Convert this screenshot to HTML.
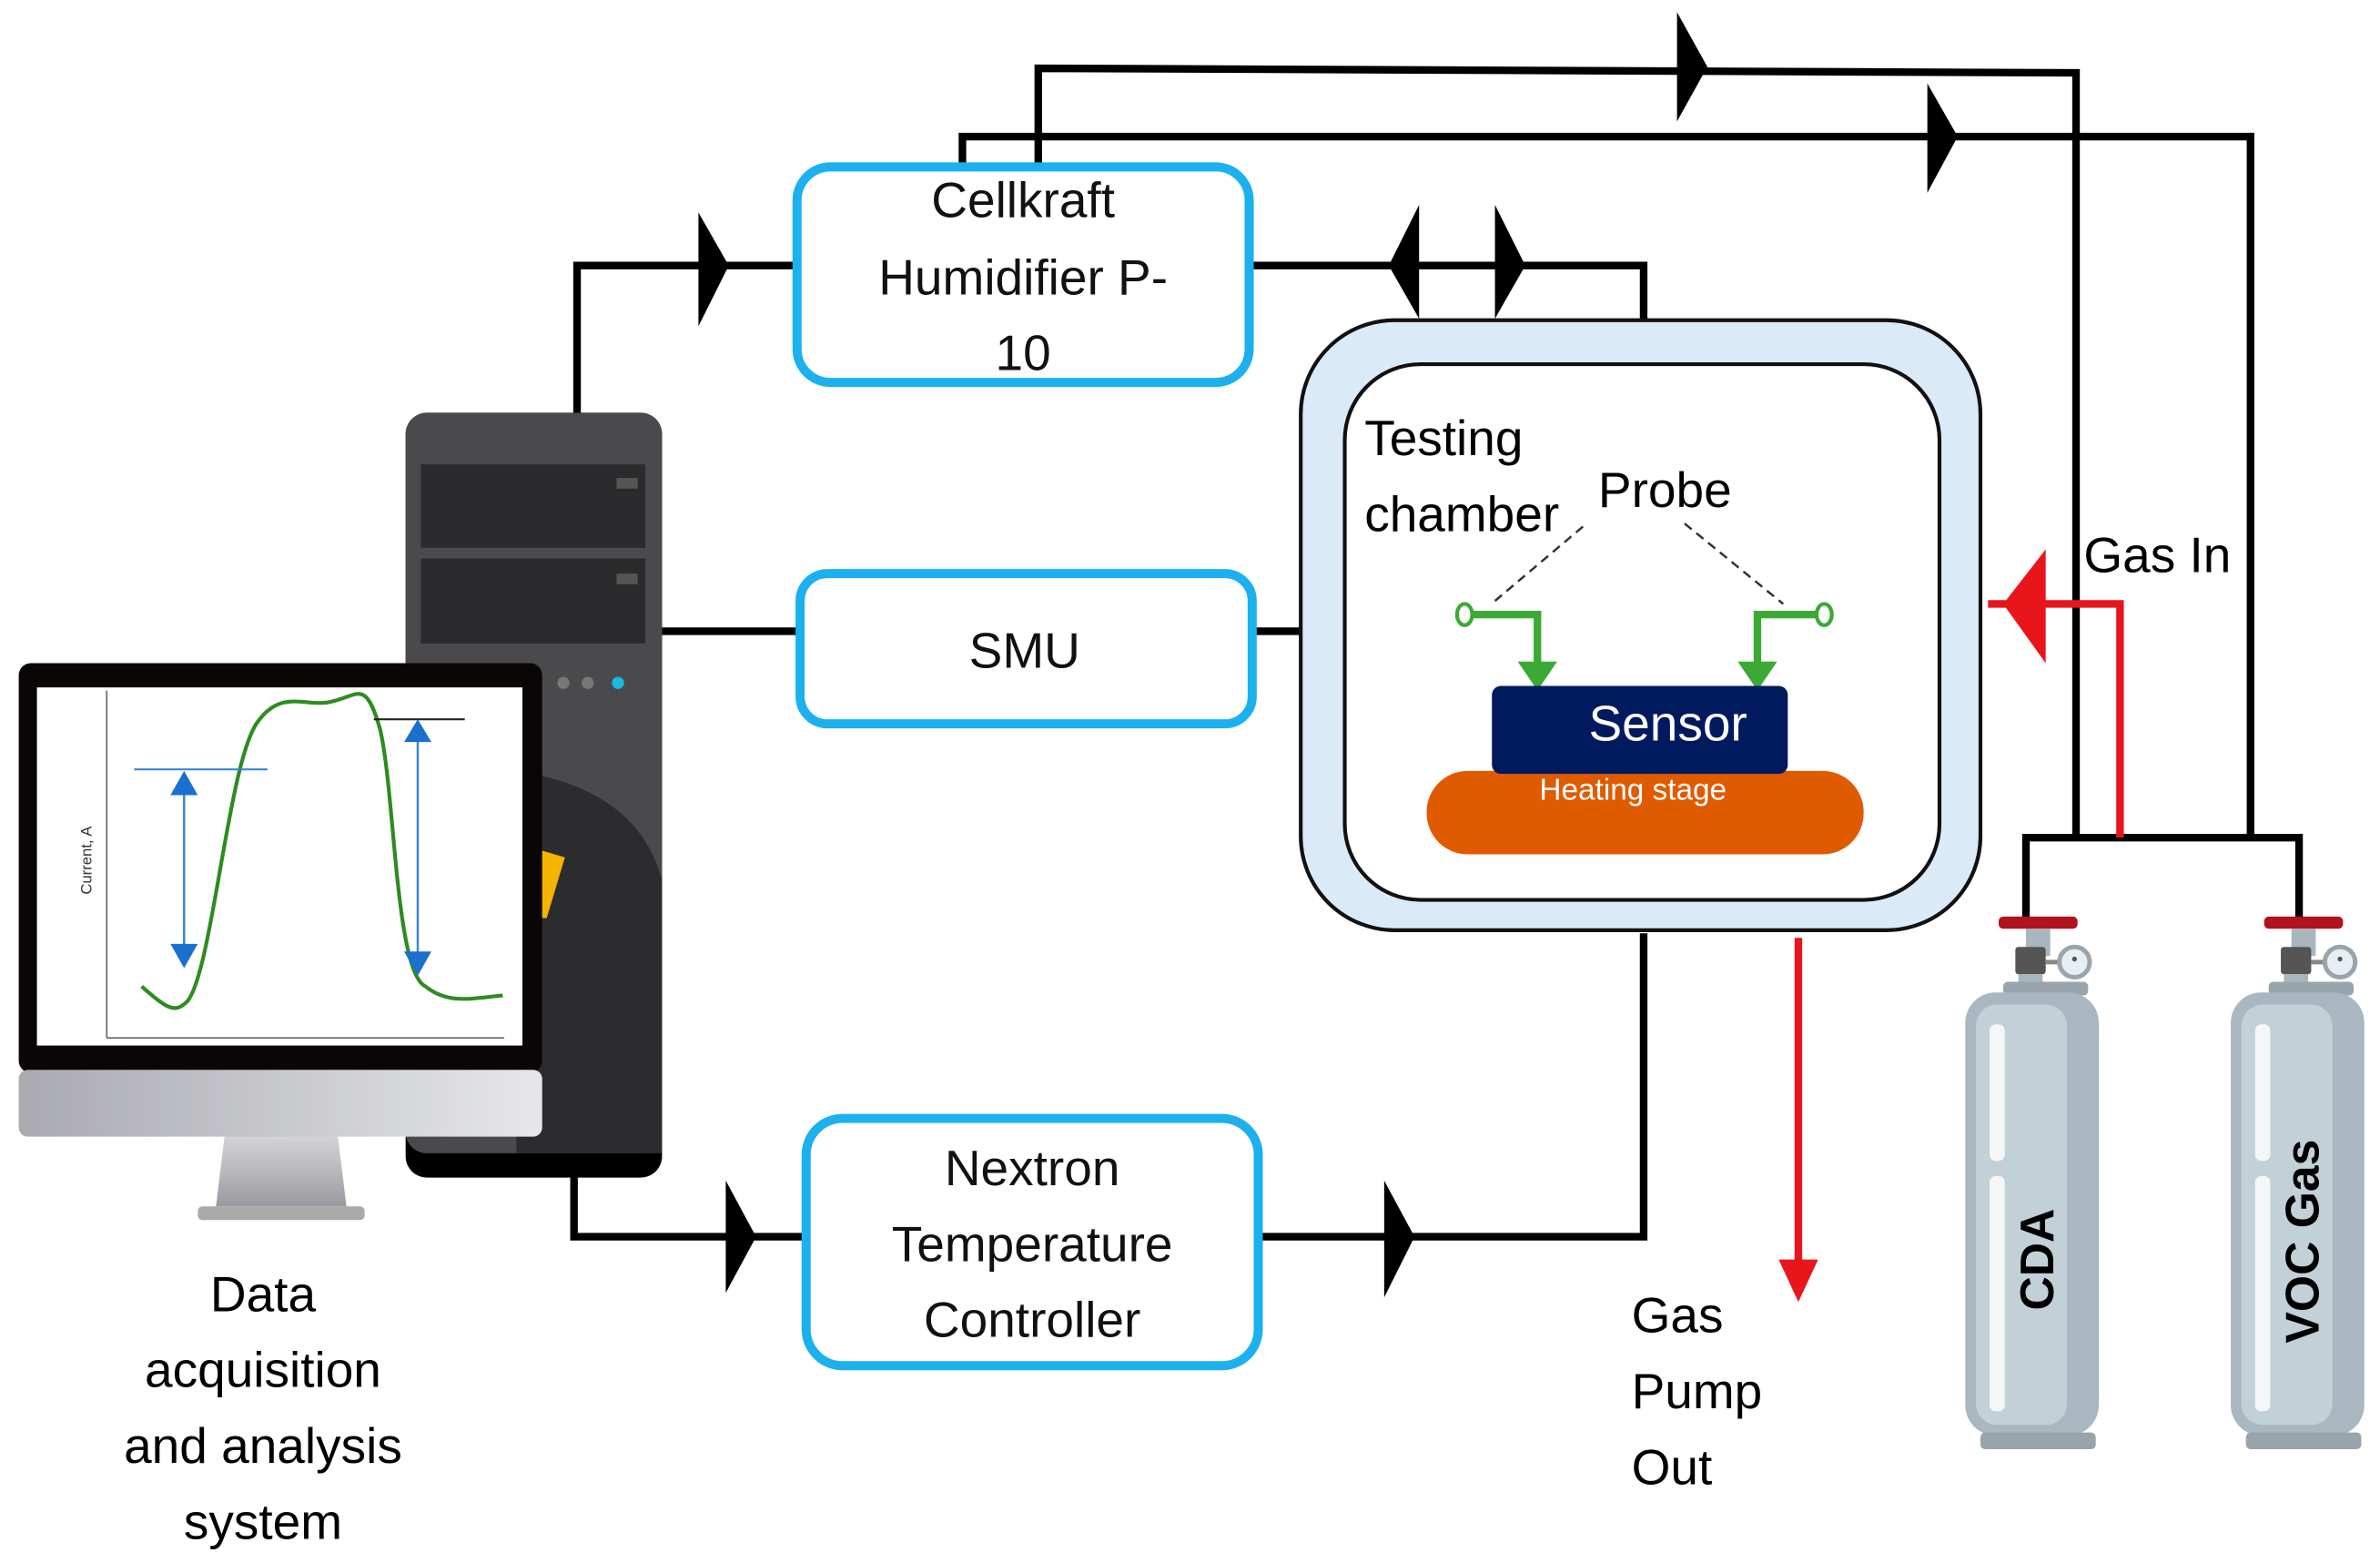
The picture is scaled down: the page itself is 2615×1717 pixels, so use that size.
<!DOCTYPE html>
<html><head><meta charset="utf-8"><style>
html,body{margin:0;padding:0;background:#fff;}
svg{display:block;}
text{font-family:"Liberation Sans","DejaVu Sans",sans-serif;}
</style></head><body>
<svg width="2615" height="1717" viewBox="0 0 1568 1030" xmlns="http://www.w3.org/2000/svg">
<defs>
<linearGradient id="bez" x1="0" x2="1"><stop offset="0" stop-color="#a9aab0"/><stop offset="1" stop-color="#e6e7ea"/></linearGradient>
<linearGradient id="stand" x1="0" x2="0" y1="0" y2="1"><stop offset="0" stop-color="#d8d8dc"/><stop offset="1" stop-color="#9a9aa0"/></linearGradient>
<g id="cyl">
<rect x="-8" y="-6" width="52" height="8" rx="3" fill="#b0131d"/>
<rect x="10" y="2" width="16" height="18" fill="#a8b6bf"/>
<rect x="3" y="14" width="20" height="18" rx="2" fill="#555"/>
<line x1="23" y1="24" x2="33" y2="24" stroke="#888" stroke-width="3"/>
<circle cx="42" cy="24" r="10" fill="#e8eef1" stroke="#98a5ad" stroke-width="3"/>
<circle cx="42" cy="22" r="1.6" fill="#555"/>
<rect x="5" y="32" width="16" height="6" fill="#a8b6bf"/>
<rect x="-5" y="37" width="56" height="9" rx="3" fill="#98a5ad"/>
<rect x="-30" y="44" width="88" height="292" rx="20" fill="#a9b7c0"/>
<rect x="-23" y="52" width="60" height="277" rx="14" fill="#c2d0d8"/>
<rect x="-14" y="65" width="10" height="90" rx="4" fill="#f4f6f7"/>
<rect x="-14" y="165" width="10" height="155" rx="4" fill="#f4f6f7"/>
<rect x="-20" y="334" width="76" height="11" rx="3" fill="#98a5ad"/>
</g>
</defs>

<g fill="none" stroke="#000" stroke-width="5">
<polyline points="684,108 684,45 1368,48 1368,552"/>
<polyline points="634,108 634,90 1483,90 1483,552"/>
<polyline points="1335,605 1335,552 1515,552 1515,605"/>
<polyline points="380,275 380,175 525,175"/>
<polyline points="823,175 1083,175 1083,212"/>
<line x1="436" y1="416" x2="527" y2="416"/>
<line x1="825" y1="416" x2="858" y2="416"/>
<polyline points="378,772 378,815 531,815"/>
<polyline points="829,815 1083,815 1083,615"/>
</g>
<g fill="#000">
<polygon points="1105,8 1125,44 1105,80"/>
<polygon points="1270,55 1290,90 1270,127"/>
<polygon points="460,140 480,175 460,215"/>
<polygon points="935,135 915,175 935,210"/>
<polygon points="985,135 1005,175 985,210"/>
<polygon points="478,778 498,815 478,852"/>
<polygon points="912,778 932,815 912,855"/>
</g>
<g stroke="#e8161b" stroke-width="5" fill="none">
<polyline points="1397,552 1397,398 1310,398"/>
<line x1="1185" y1="618" x2="1185" y2="835"/>
</g>
<polygon points="1348,362 1320,398 1348,437" fill="#e8161b"/>
<polygon points="1172,830 1198,830 1185,858" fill="#e8161b"/>

<g fill="#fff" stroke="#1cb0ee" stroke-width="6">
<rect x="525" y="110" width="298" height="142" rx="22"/>
<rect x="527" y="378" width="298" height="99" rx="18"/>
<rect x="531" y="737" width="298" height="163" rx="24"/>
</g>
<g font-size="33" fill="#111" text-anchor="middle">
<text x="674" y="143">Cellkraft</text>
<text x="674" y="194">Humidifier P-</text>
<text x="674" y="244">10</text>
<text x="675" y="440">SMU</text>
<text x="680" y="781">Nextron</text>
<text x="680" y="831">Temperature</text>
<text x="680" y="881">Controller</text>
</g>

<rect x="857" y="211" width="448" height="402" rx="62" fill="#dbeaf7" stroke="#111" stroke-width="2.5"/>
<rect x="886" y="240" width="392" height="353" rx="50" fill="#fff" stroke="#111" stroke-width="2.5"/>
<g font-size="33" fill="#000">
<text x="899" y="300">Testing</text>
<text x="899" y="350">chamber</text>
<text x="1053" y="334">Probe</text>
<text x="1373" y="377">Gas In</text>
<text x="1075" y="878">Gas</text>
<text x="1075" y="928">Pump</text>
<text x="1075" y="978">Out</text>
</g>
<g stroke="#333" stroke-width="1.5" stroke-dasharray="6,4" fill="none">
<line x1="1043" y1="347" x2="985" y2="396"/>
<line x1="1110" y1="345" x2="1175" y2="398"/>
</g>
<g stroke="#3aaa35" stroke-width="5" fill="none">
<polyline points="970,405 1013,405 1013,440"/>
<polyline points="1197,405 1158,405 1158,440"/>
</g>
<g fill="#fff" stroke="#3aaa35" stroke-width="2.5">
<ellipse cx="965" cy="405" rx="5" ry="7"/>
<ellipse cx="1202" cy="405" rx="5" ry="7"/>
</g>
<polygon points="1000,436 1026,436 1013,455" fill="#3aaa35"/>
<polygon points="1145,436 1171,436 1158,455" fill="#3aaa35"/>
<rect x="940" y="508" width="288" height="55" rx="27" fill="#e05a00"/>
<rect x="983" y="452" width="195" height="58" rx="6" fill="#011a5e"/>
<text x="1099" y="488" font-size="33" fill="#fff" text-anchor="middle">Sensor</text>
<text x="1076" y="527" font-size="20" fill="#fff" text-anchor="middle">Heating stage</text>

<use href="#cyl" x="1325" y="610"/>
<use href="#cyl" x="1500" y="610"/>
<text transform="translate(1353,830) rotate(-90)" font-size="31" font-weight="bold" fill="#000" text-anchor="middle">CDA</text>
<text transform="translate(1528,818) rotate(-90)" font-size="31" font-weight="bold" fill="#000" text-anchor="middle">VOC Gas</text>

<rect x="267" y="272" width="169" height="504" rx="14" fill="#000"/>
<rect x="267" y="272" width="169" height="488" rx="14" fill="#4a4a4d"/>
<rect x="277" y="306" width="148" height="55" fill="#2b2b2d"/>
<rect x="277" y="368" width="148" height="56" fill="#2b2b2d"/>
<rect x="406" y="315" width="14" height="7" fill="#555"/>
<rect x="406" y="378" width="14" height="7" fill="#555"/>
<circle cx="371" cy="450" r="4" fill="#777"/>
<circle cx="387" cy="450" r="4" fill="#777"/>
<circle cx="407" cy="450" r="4" fill="#19b9e0"/>
<path d="M340,508 Q420,520 436,580 L436,760 L340,760 Z" fill="#2c2c2e"/>
<path d="M355,560 L372,565 L360,605 L355,605 Z" fill="#f5b400"/>
<polygon points="148,746 222,746 228,795 142,795" fill="url(#stand)"/>
<rect x="130" y="795" width="110" height="9" rx="3" fill="#aaa"/>
<rect x="12" y="437" width="345" height="270" rx="8" fill="#0a0605"/>
<rect x="12" y="705" width="345" height="44" rx="6" fill="url(#bez)"/>
<rect x="24" y="453" width="320" height="236" fill="#fff"/>
<line x1="70" y1="455" x2="70" y2="684" stroke="#666" stroke-width="1"/>
<line x1="70" y1="684" x2="332" y2="684" stroke="#666" stroke-width="1"/>
<text transform="translate(60,567) rotate(-90)" font-size="10" fill="#333" text-anchor="middle">Current, A</text>
<path d="M93,650 C110,665 115,668 123,660 C140,640 150,500 170,475 C185,455 200,465 215,463 C235,460 240,445 250,480 C260,520 260,640 280,650 C295,662 310,658 331,656" fill="none" stroke="#2e8b22" stroke-width="2.5"/>
<line x1="88" y1="507" x2="176" y2="507" stroke="#3a86d8" stroke-width="1.3"/>
<line x1="246" y1="474" x2="306" y2="474" stroke="#222" stroke-width="1.3"/>
<line x1="121" y1="512" x2="121" y2="632" stroke="#3a86d8" stroke-width="1.5"/>
<line x1="275" y1="480" x2="275" y2="637" stroke="#3a86d8" stroke-width="1.5"/>
<g fill="#1a6fcf">
<polygon points="112,524 130,524 121,508"/>
<polygon points="112,622 130,622 121,638"/>
<polygon points="266,489 284,489 275,474"/>
<polygon points="266,627 284,627 275,643"/>
</g>
<g font-size="33" fill="#000" text-anchor="middle">
<text x="173" y="864">Data</text>
<text x="173" y="914">acquisition</text>
<text x="173" y="964">and analysis</text>
<text x="173" y="1014">system</text>
</g>
</svg>
</body></html>
